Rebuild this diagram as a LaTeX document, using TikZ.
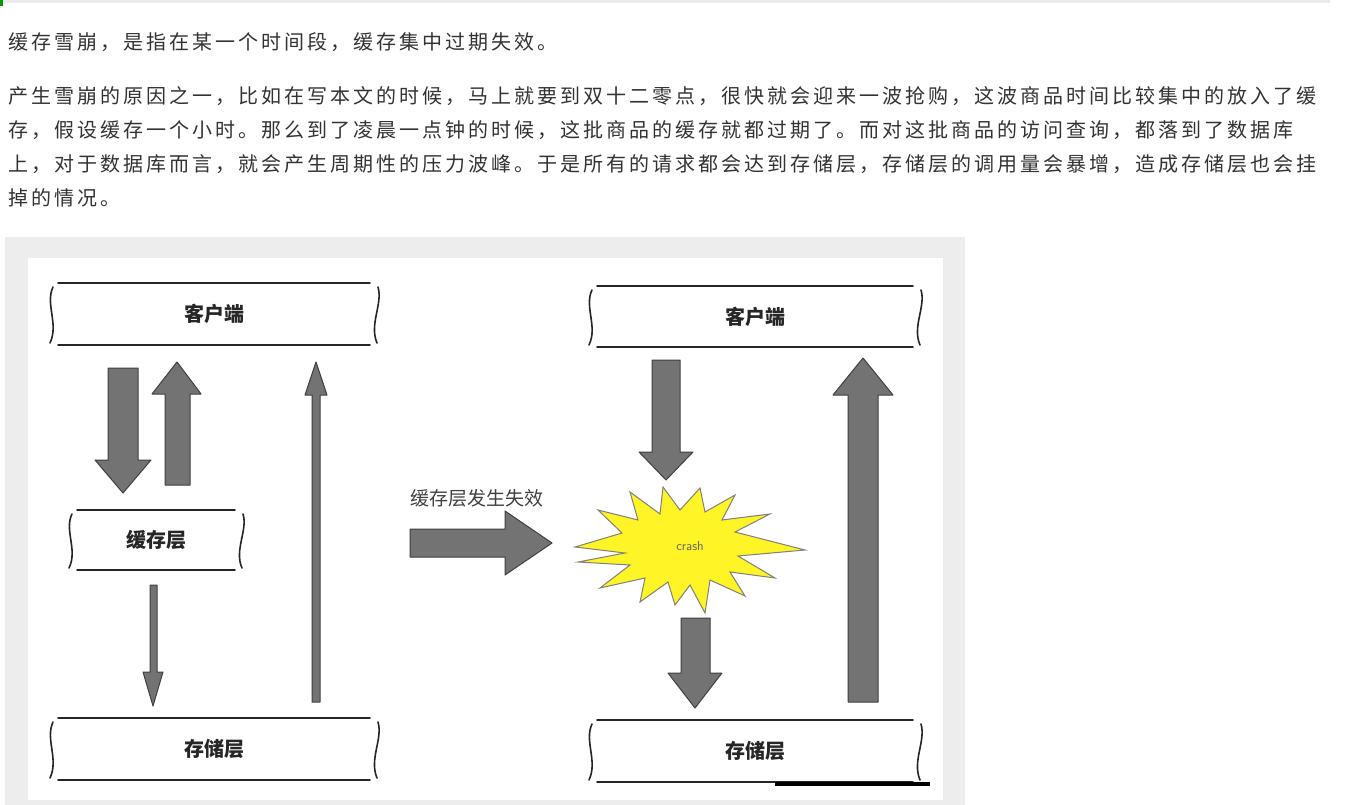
\documentclass[tikz,border=0pt]{standalone}
\usepackage{fontspec}
\newfontfamily\cjk{Noto Sans CJK SC}
\newfontfamily\cjkp[LetterSpace=15]{Noto Sans CJK SC}
\setmainfont{Liberation Sans}
\begin{document}
\begin{tikzpicture}[x=1pt,y=-1pt,
  para/.style={anchor=west,inner sep=0,font=\cjkp\fontsize{20}{22}\selectfont,text=black!80},
  lbl/.style={inner sep=0,font=\cjk\bfseries\fontsize{20}{22}\selectfont,text=black!85},
  fat/.style={fill=black!55,draw=black!75,line width=1pt,line join=round},
  edge/.style={line width=1.6pt,draw=black!85,line cap=round}]
\useasboundingbox (0,0) rectangle (1345,805);
\fill[white] (0,0) rectangle (1345,805);
\fill[black!8] (0,0) rectangle (1330,3);
\fill[green!60!black] (0,0) rectangle (3,6);
% text
\node[para] (t0) at (8,42) {缓存雪崩，是指在某一个时间段，缓存集中过期失效。};
\node[para] (t1) at (8,96) {产生雪崩的原因之一，比如在写本文的时候，马上就要到双十二零点，很快就会迎来一波抢购，这波商品时间比较集中的放入了缓};
\node[para] (t2) at (8,130) {存，假设缓存一个小时。那么到了凌晨一点钟的时候，这批商品的缓存就都过期了。而对这批商品的访问查询，都落到了数据库};
\node[para] (t3) at (8,164) {上，对于数据库而言，就会产生周期性的压力波峰。于是所有的请求都会达到存储层，存储层的调用量会暴增，造成存储层也会挂};
\node[para] (t4) at (8,198) {掉的情况。};
% frame
\fill[black!7] (5,237) rectangle (965,805);
\fill[white] (28,258) rectangle (943,800);
% boxes
\def\mybox#1#2#3#4#5#6{%
  \node[lbl] (#1) at ({(#2+#4)/2},{(#3+#5)/2}) {#6};
  \draw[edge] (#2+5,#3) -- (#4-5,#3);
  \draw[edge] (#2+5,#5) -- (#4-5,#5);
  \draw[edge] (#2,#3+4) .. controls (#2-8,{(#3+#5)/2-10}) and (#2+6,{(#3+#5)/2+10}) .. (#2-3,#5-2);
  \draw[edge] (#4+3,#3+4) .. controls (#4+8,{(#3+#5)/2-10}) and (#4-6,{(#3+#5)/2+10}) .. (#4+2,#5-2);}
\mybox{lc}{53}{283}{375}{345}{客户端}
\mybox{lm}{72}{510}{240}{570}{缓存层}
\mybox{ls}{53}{718}{375}{780}{存储层}
\mybox{rc}{592}{286}{918}{347}{客户端}
\mybox{rs}{592}{720}{918}{782}{存储层}
% arrows
\draw[fat] (108,368) -- (138,368) -- (138,460) -- (151,460) -- (123,493) -- (95,460) -- (108,460) -- cycle;
\draw[fat] (165,485) -- (190,485) -- (190,394) -- (201,394) -- (177,362) -- (152,394) -- (165,394) -- cycle;
\draw[fat] (150,585) -- (157,585) -- (157,672) -- (163,672) -- (153,706) -- (143,672) -- (150,672) -- cycle;
\draw[fat] (312,702) -- (320,702) -- (320,395) -- (327,395) -- (316,362) -- (305,395) -- (312,395) -- cycle;
\draw[fat] (652,360) -- (680,360) -- (680,452) -- (693,452) -- (666,480) -- (639,452) -- (652,452) -- cycle;
\draw[fat] (681,618) -- (710,618) -- (710,673) -- (722,673) -- (695,708) -- (668,673) -- (681,673) -- cycle;
\draw[fat] (848,702) -- (878,702) -- (878,395) -- (893,395) -- (863,358) -- (833,395) -- (848,395) -- cycle;
\draw[fat] (410,529) -- (505,529) -- (505,511) -- (552,543) -- (505,575) -- (505,557) -- (410,557) -- cycle;
\node[inner sep=0,font=\cjk\fontsize{19}{22}\selectfont,text=black!75] (mid) at (477,498) {缓存层发生失效};
% star
\draw[fill=yellow!85!white,draw=black!50,line width=1pt,line join=miter]
 (575,547) -- (622,533) -- (598,510) -- (638,520) -- (630,492) -- (660,514) -- (663,487) -- (680,510) -- (700,488) -- (705,512) -- (735,495) -- (722,520) -- (770,514) -- (735,532) -- (805,550) -- (738,556) -- (775,578) -- (730,572) -- (745,596) -- (710,580) -- (705,613) -- (690,585) -- (675,605) -- (668,582) -- (640,602) -- (645,578) -- (600,588) -- (630,565) -- (578,562) -- (625,553) -- cycle;
\node[inner sep=0,font=\sffamily\fontsize{13}{14}\selectfont,text=black!60] (crash) at (690,546) {crash};
\fill[black] (775,782) rectangle (930,786);
\end{tikzpicture}
\end{document}
